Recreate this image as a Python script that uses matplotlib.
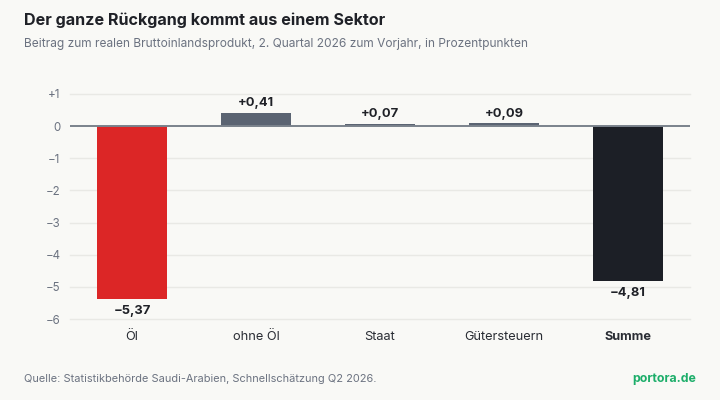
import matplotlib
matplotlib.use("Agg")
import matplotlib.pyplot as plt

categories = ["Öl", "ohne Öl", "Staat", "Gütersteuern", "Summe"]
values = [-5.37, 0.41, 0.07, 0.09, -4.81]
value_labels = ["−5,37", "+0,41", "+0,07", "+0,09", "−4,81"]
yticks = [1, 0, -1, -2, -3, -4, -5, -6]
ytick_labels = ["+1", "0", "−1", "−2", "−3", "−4", "−5", "−6"]
colors = ["#DC2626", "#5B6472", "#5B6472", "#5B6472", "#1C1F26"]

plt.rcParams["font.family"] = ["Inter", "DejaVu Sans"]
BG = "#F9F9F6"

fig = plt.figure(figsize=(7.2, 4.0), dpi=100, facecolor=BG)
ax = fig.add_axes([70/720, 1-319/400, 620/720, 225/400], facecolor=BG)

x = list(range(len(categories)))
ax.bar(x, values, width=0.56, color=colors, zorder=3)
ax.set_xlim(-0.5, 4.5)
ax.set_ylim(-6, 1)

for yv in yticks:
    if yv == 0:
        continue
    ax.axhline(yv, color="#E9E9E5", lw=1.0, zorder=1, clip_on=False)
ax.axhline(0, color="#7A828C", lw=1.4, zorder=4)

for s in ax.spines.values():
    s.set_visible(False)
ax.set_yticks(yticks)
ax.set_yticklabels(ytick_labels)
ax.tick_params(axis="y", length=0, pad=7, labelsize=8.3, labelcolor="#6B7280")
ax.set_xticks(x)
ax.set_xticklabels(categories)
ax.tick_params(axis="x", length=0, pad=9, labelsize=9.2, labelcolor="#2A2D34")
for i, lab in enumerate(ax.get_xticklabels()):
    if i == len(categories) - 1:
        lab.set_fontweight("bold")

for xi, v, t in zip(x, values, value_labels):
    if v >= 0:
        ax.annotate(t, (xi, v), xytext=(0, 2.5), textcoords="offset points",
                    ha="center", va="bottom", fontsize=9.3, fontweight="bold", color="#1F2127")
    else:
        ax.annotate(t, (xi, v), xytext=(0, -4.5), textcoords="offset points",
                    ha="center", va="top", fontsize=9.3, fontweight="bold", color="#1F2127")

fig.text(24/720, 1-20/400, "Der ganze Rückgang kommt aus einem Sektor", fontsize=11.6,
         fontweight="bold", color="#1F2127", ha="left", va="center")
fig.text(24/720, 1-44/400, "Beitrag zum realen Bruttoinlandsprodukt, 2. Quartal 2026 zum Vorjahr, in Prozentpunkten",
         fontsize=8.6, color="#6B7280", ha="left", va="center")
fig.text(24/720, 1-379/400, "Quelle: Statistikbehörde Saudi-Arabien, Schnellschätzung Q2 2026.",
         fontsize=7.9, color="#6B7280", ha="left", va="center")
fig.text(696/720, 1-379/400, "portora.de", fontsize=8.9, fontweight="bold",
         color="#1DAE6A", ha="right", va="center")

fig.savefig("out.png", dpi=100, facecolor=BG)
